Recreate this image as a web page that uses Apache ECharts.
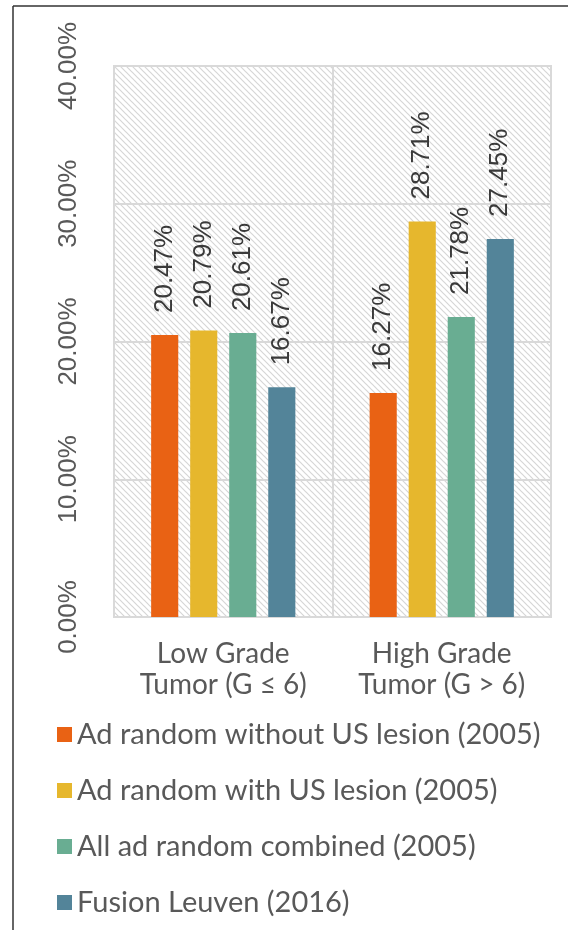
<!DOCTYPE html>
<html>
<head>
<meta charset="utf-8">
<script src="https://cdn.jsdelivr.net/npm/echarts@6/dist/echarts.min.js"></script>
<style>
  html, body { margin: 0; padding: 0; background: #fff; }
  #chart { width: 568px; height: 930px; }
</style>
</head>
<body>
<div id="chart"></div>
<script>
// data
var categories = ['Low Grade\nTumor (G ≤ 6)', 'High Grade\nTumor (G > 6)'];
var seriesNames = [
    'Ad random without US lesion (2005)',
    'Ad random with US lesion (2005)',
    'All ad random combined (2005)',
    'Fusion Leuven (2016)'
];
var withoutUS = [20.47, 16.27];
var withUS = [20.79, 28.71];
var allRandom = [20.61, 21.78];
var fusion = [16.67, 27.45];
var yTicks = [0, 10, 20, 30, 40];

var colors = ['#E96214', '#E6B72D', '#69AD92', '#538499'];

// hatch pattern for plot background
function makeHatch() {
    var c = document.createElement('canvas');
    c.width = 6; c.height = 6;
    var ctx = c.getContext('2d');
    ctx.fillStyle = '#ffffff';
    ctx.fillRect(0, 0, 6, 6);
    ctx.strokeStyle = '#d6d6d6';
    ctx.lineWidth = 1.2;
    ctx.beginPath();
    ctx.moveTo(0, 0); ctx.lineTo(6, 6);
    ctx.moveTo(-3, 3); ctx.lineTo(3, 9);
    ctx.moveTo(3, -3); ctx.lineTo(9, 3);
    ctx.stroke();
    return c;
}

var myChart = echarts.init(document.getElementById('chart'));

var values = [withoutUS, withUS, allRandom, fusion];
var series = [];
for (var i = 0; i < values.length; i++) {
    series.push({
        name: seriesNames[i],
        type: 'bar',
        data: values[i],
        barGap: '44%',
        barCategoryGap: '34%',
        itemStyle: { color: colors[i] },
        label: {
            show: true,
            position: 'top',
            rotate: 90,
            align: 'left',
            verticalAlign: 'middle',
            distance: 22,
            fontFamily: 'Liberation Sans',
            fontSize: 26,
            color: '#3a3a3a',
            formatter: function (p) { return p.value.toFixed(2) + '%'; }
        }
    });
}

var option = {
    animation: false,
    backgroundColor: '#fff',
    color: colors,
    grid: {
        left: 114,
        right: 17,
        top: 66,
        bottom: 313,
        show: true,
        backgroundColor: { image: makeHatch(), repeat: 'repeat' },
        borderColor: '#d9d9d9',
        borderWidth: 2
    },
    legend: {
        orient: 'vertical',
        left: 52,
        top: 715,
        icon: 'rect',
        itemWidth: 15,
        itemHeight: 15,
        itemGap: 27,
        data: seriesNames,
        textStyle: {
            fontFamily: 'Lato',
            fontSize: 29,
            color: '#595959'
        }
    },
    xAxis: {
        type: 'category',
        data: categories,
        axisLine: { show: false },
        axisTick: { show: false },
        splitLine: { show: true, lineStyle: { color: '#d9d9d9', width: 2 } },
        axisLabel: {
            margin: 21,
            fontFamily: 'Lato',
            fontSize: 28,
            lineHeight: 31,
            color: '#595959'
        }
    },
    yAxis: {
        type: 'value',
        min: yTicks[0],
        max: yTicks[yTicks.length - 1],
        interval: 10,
        axisLine: { show: false },
        axisTick: { show: false },
        splitLine: { lineStyle: { color: '#d9d9d9', width: 2 } },
        axisLabel: {
            rotate: 90,
            margin: 32,
            fontFamily: 'Liberation Sans',
            fontSize: 26,
            color: '#595959',
            formatter: function (v) { return v.toFixed(2) + '%'; }
        }
    },
    graphic: [
        { type: 'line', shape: { x1: 13, y1: 6, x2: 568, y2: 6 }, style: { stroke: '#333', lineWidth: 1.5 } },
        { type: 'line', shape: { x1: 13, y1: 6, x2: 13, y2: 930 }, style: { stroke: '#333', lineWidth: 1.5 } }
    ],
    series: series
};

myChart.setOption(option);
</script>
</body>
</html>
